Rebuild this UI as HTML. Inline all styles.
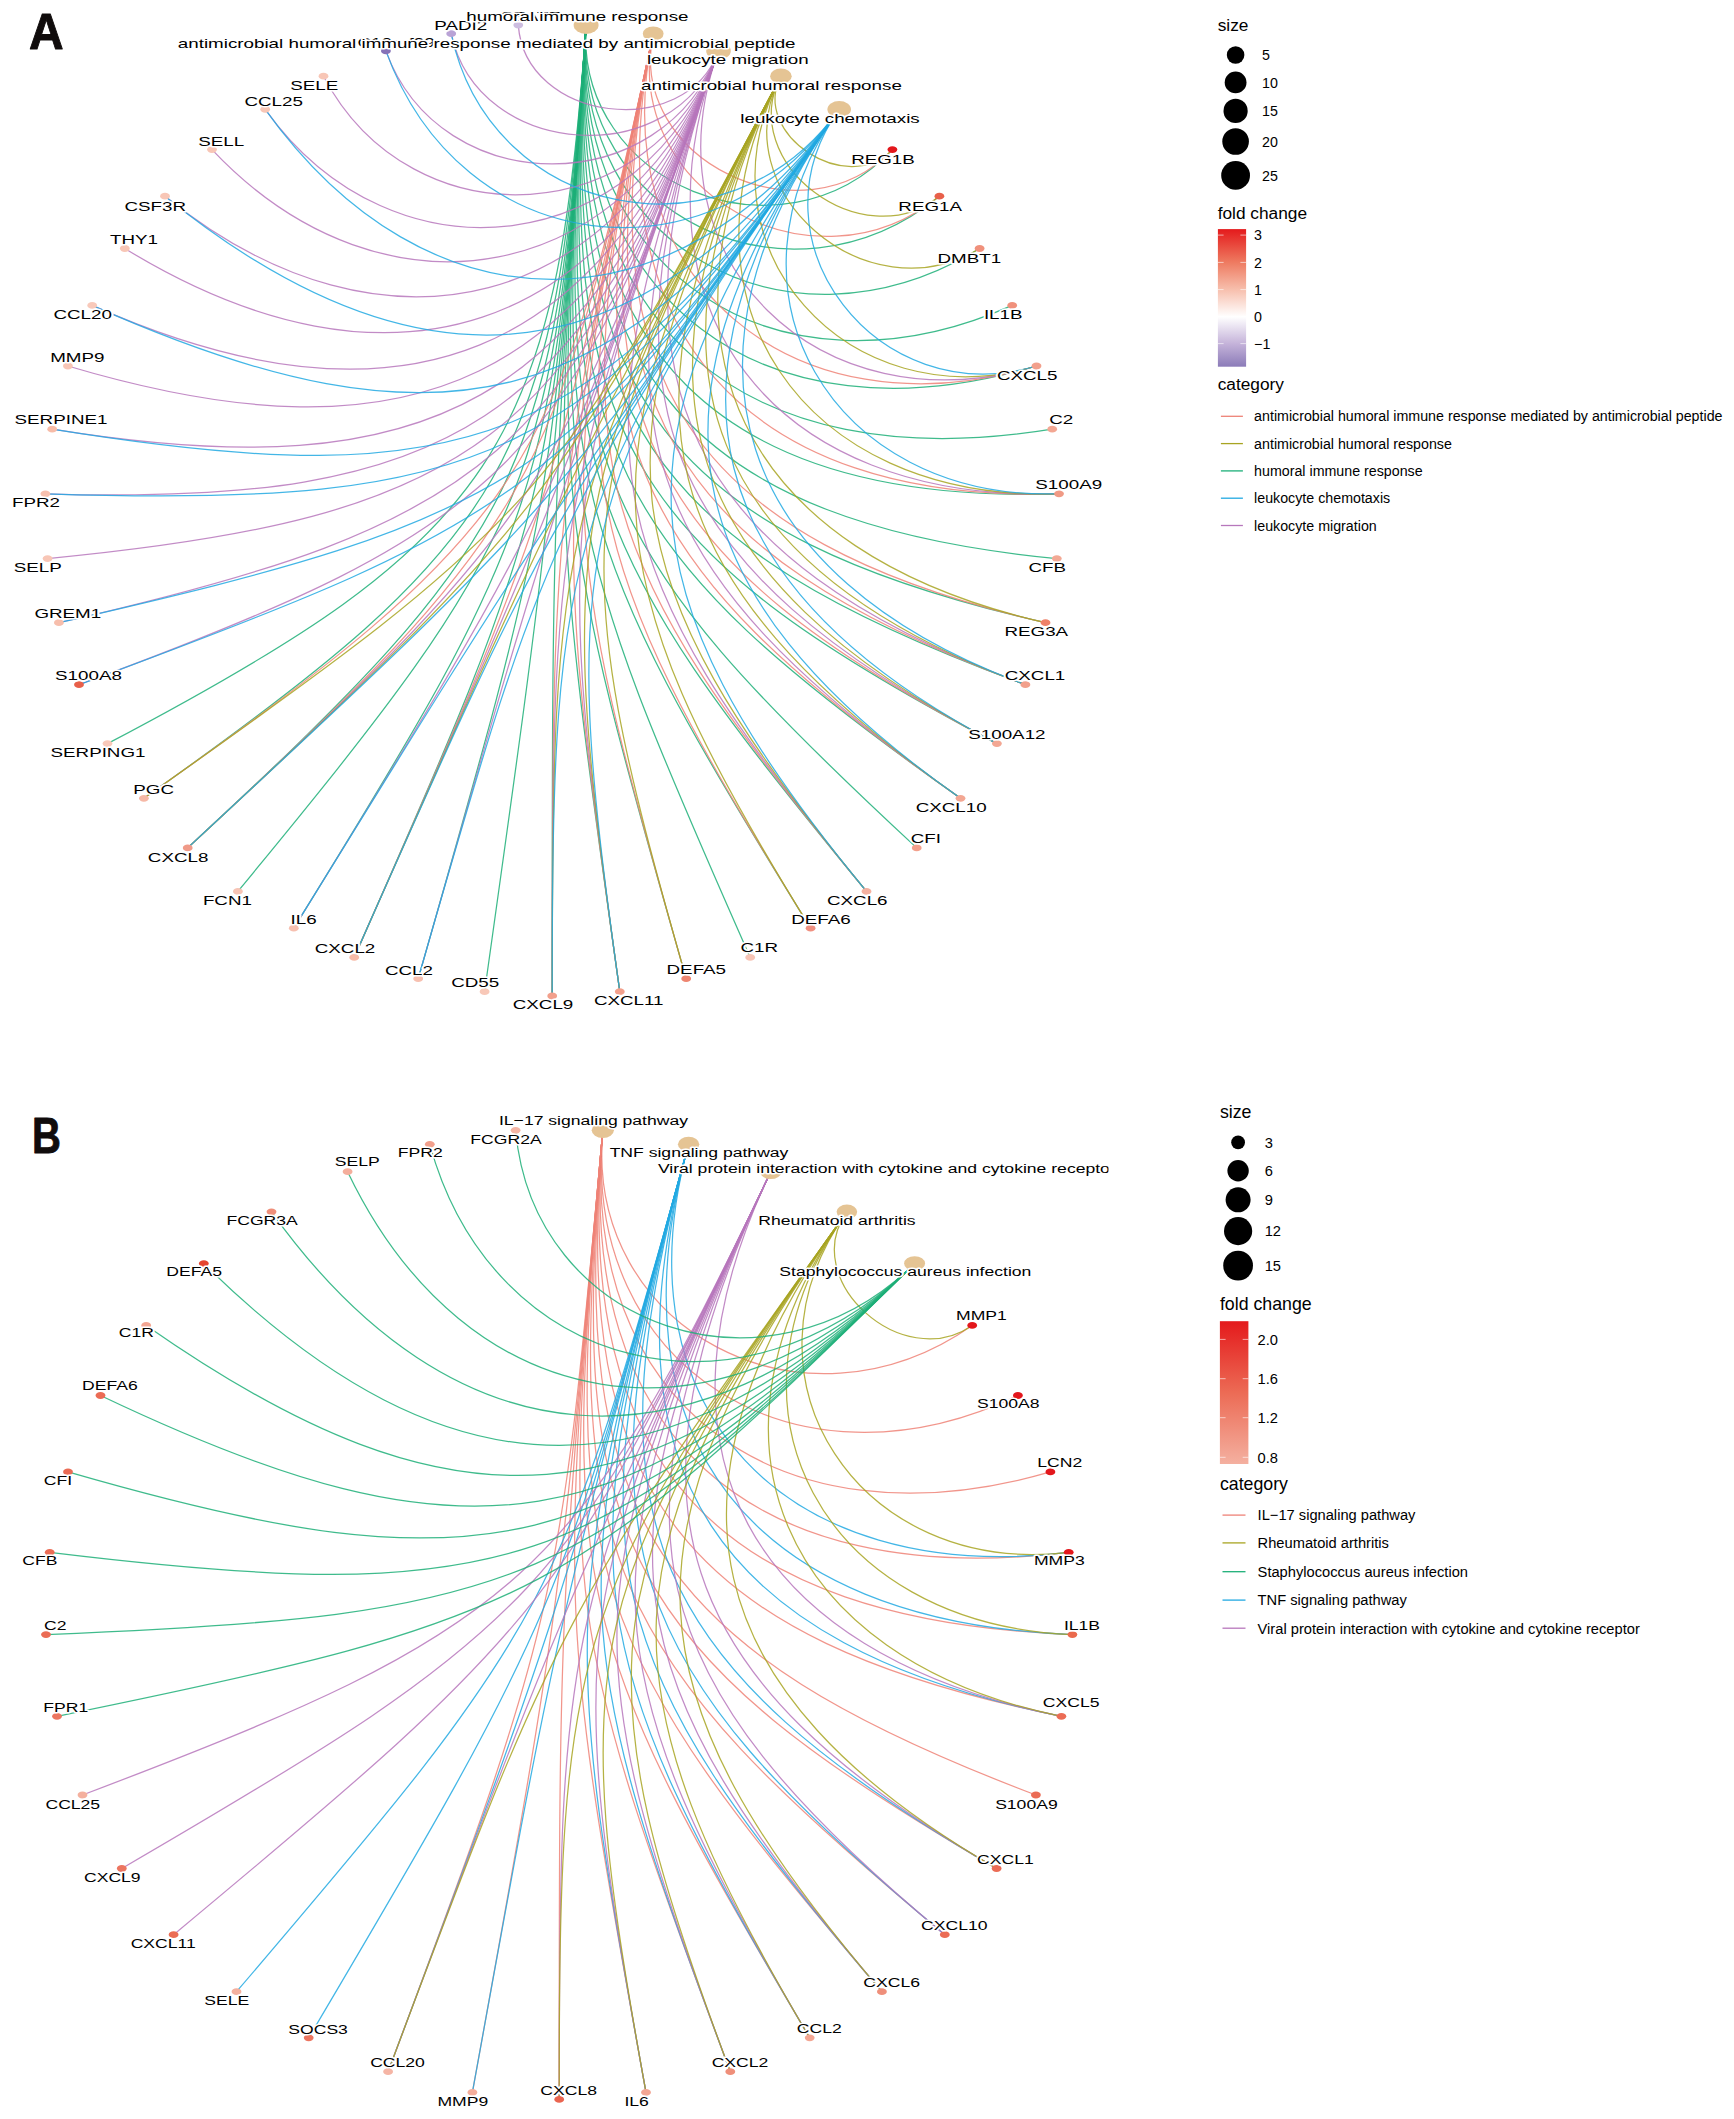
<!DOCTYPE html>
<html><head><meta charset="utf-8"><title>cnetplot</title>
<style>
html,body{margin:0;padding:0;background:#fff}
svg{display:block;font-family:"Liberation Sans",sans-serif}
.lab text{fill:#000;stroke:#fff;stroke-width:3px;stroke-linejoin:round;paint-order:stroke fill}
</style></head><body>
<svg width="1734" height="2119" viewBox="0 0 1734 2119">
<rect width="1734" height="2119" fill="#fff"/>
<defs><clipPath id="cpB"><rect x="0" y="1080" width="1108.5" height="1039"/></clipPath></defs>
<g id="panelA">
<g fill="none" stroke-width="1.25" stroke-opacity="0.85">
<g stroke="#1DAF78"><path d="M586.1 25.1C575.0 184.1 780.8 267.8 892.4 149.6"/><path d="M586.1 25.1C572.8 214.4 788.3 318.7 939.4 196.2"/><path d="M586.1 25.1C570.8 243.8 786.9 366.4 979.6 248.5"/><path d="M586.1 25.1C568.8 272.2 777.8 409.7 1012.2 305.4"/><path d="M586.1 25.1C566.9 299.5 762.4 447.5 1036.5 366.0"/><path d="M586.1 25.1C565.1 325.6 742.3 479.3 1052.2 429.2"/><path d="M586.1 25.1C563.4 350.4 719.1 504.7 1059.0 493.8"/><path d="M586.1 25.1C561.7 373.7 694.1 523.7 1056.8 558.6"/><path d="M586.1 25.1C560.2 395.4 668.8 536.6 1045.5 622.7"/><path d="M586.1 25.1C558.8 415.5 644.4 544.0 1025.4 684.7"/><path d="M586.1 25.1C557.5 433.8 622.1 546.7 996.9 743.6"/><path d="M586.1 25.1C556.4 450.3 602.4 545.5 960.5 798.3"/><path d="M586.1 25.1C555.3 464.9 586.1 541.4 916.7 847.9"/><path d="M586.1 25.1C554.5 477.6 573.2 535.5 866.5 891.4"/><path d="M586.1 25.1C553.7 488.2 563.8 528.8 810.6 928.2"/><path d="M586.1 25.1C553.1 496.8 557.6 522.2 750.2 957.4"/><path d="M586.1 25.1C552.7 503.2 554.1 516.5 686.2 978.7"/><path d="M586.1 25.1C552.4 507.6 552.5 512.4 619.8 991.7"/><path d="M586.1 25.1C552.2 509.7 552.2 510.3 552.2 996.0"/><path d="M586.1 25.1C552.2 509.7 552.2 510.3 484.6 991.7"/><path d="M586.1 25.1C552.4 507.6 551.5 512.4 418.2 978.7"/><path d="M586.1 25.1C552.7 503.2 549.4 516.2 354.2 957.4"/><path d="M586.1 25.1C553.1 496.8 545.2 521.4 293.8 928.2"/><path d="M586.1 25.1C553.7 488.2 538.1 527.1 237.9 891.4"/><path d="M586.1 25.1C554.5 477.6 527.8 532.6 187.7 847.9"/><path d="M586.1 25.1C555.3 464.9 514.3 536.8 143.9 798.3"/><path d="M586.1 25.1C556.4 450.3 497.5 538.7 107.5 743.6"/></g>
<g stroke="#EE8277"><path d="M653.2 33.7C626.5 159.6 802.5 244.8 892.4 149.6"/><path d="M653.2 33.7C620.1 190.0 812.4 299.2 939.4 196.2"/><path d="M653.2 33.7C601.7 276.4 789.7 439.4 1036.5 366.0"/><path d="M653.2 33.7C590.6 328.9 744.9 503.8 1059.0 493.8"/><path d="M653.2 33.7C580.6 376.1 690.9 541.7 1045.5 622.7"/><path d="M653.2 33.7C576.1 397.4 664.0 551.3 1025.4 684.7"/><path d="M653.2 33.7C571.9 417.2 638.9 555.5 996.9 743.6"/><path d="M653.2 33.7C568.1 435.2 616.3 555.3 960.5 798.3"/><path d="M653.2 33.7C561.6 465.8 581.4 545.4 866.5 891.4"/><path d="M653.2 33.7C558.9 478.2 569.5 537.9 810.6 928.2"/><path d="M653.2 33.7C555.0 497.0 555.8 522.8 686.2 978.7"/><path d="M653.2 33.7C553.6 503.4 553.1 516.7 619.8 991.7"/><path d="M653.2 33.7C552.7 507.6 552.2 512.4 552.2 996.0"/><path d="M653.2 33.7C552.7 507.6 551.2 512.2 354.2 957.4"/><path d="M653.2 33.7C556.7 488.6 535.8 525.2 187.7 847.9"/><path d="M653.2 33.7C558.9 478.2 524.9 529.3 143.9 798.3"/></g>
<g stroke="#B777BC"><path d="M718.5 50.9C643.5 258.0 818.1 431.0 1036.5 366.0"/><path d="M718.5 50.9C624.4 310.7 772.2 503.0 1059.0 493.8"/><path d="M718.5 50.9C599.0 380.9 685.3 559.1 1025.4 684.7"/><path d="M718.5 50.9C591.5 401.5 657.3 565.2 996.9 743.6"/><path d="M718.5 50.9C584.6 420.5 631.8 566.2 960.5 798.3"/><path d="M718.5 50.9C572.7 453.5 590.9 556.9 866.5 891.4"/><path d="M718.5 50.9C556.7 497.5 554.0 523.1 619.8 991.7"/><path d="M718.5 50.9C554.5 503.6 552.2 516.8 552.2 996.0"/><path d="M718.5 50.9C552.3 509.7 552.1 510.3 418.2 978.7"/><path d="M718.5 50.9C552.3 509.7 552.1 510.2 354.2 957.4"/><path d="M718.5 50.9C553.0 507.7 550.9 512.1 293.8 928.2"/><path d="M718.5 50.9C556.7 497.5 542.3 519.2 187.7 847.9"/><path d="M718.5 50.9C567.7 467.3 508.2 526.2 79.0 684.7"/><path d="M718.5 50.9C572.7 453.5 491.5 523.9 58.9 622.7"/><path d="M718.5 50.9C578.3 437.9 472.9 517.6 47.6 558.6"/><path d="M718.5 50.9C584.6 420.5 453.4 506.8 45.4 493.8"/><path d="M718.5 50.9C591.5 401.5 434.0 490.9 52.2 429.2"/><path d="M718.5 50.9C599.0 380.9 416.0 469.5 67.9 366.0"/><path d="M718.5 50.9C607.0 358.9 400.8 442.7 92.2 305.4"/><path d="M718.5 50.9C615.5 335.4 389.7 410.6 124.8 248.5"/><path d="M718.5 50.9C624.4 310.7 384.1 373.8 165.0 196.2"/><path d="M718.5 50.9C633.8 284.9 385.4 333.2 212.0 149.6"/><path d="M718.5 50.9C643.5 258.0 394.6 290.0 265.2 109.3"/><path d="M718.5 50.9C653.6 230.1 412.8 245.6 323.5 76.2"/><path d="M718.5 50.9C664.0 201.5 440.4 201.5 385.9 50.9"/><path d="M718.5 50.9C674.6 172.2 477.9 159.6 451.2 33.7"/><path d="M718.5 50.9C685.4 142.3 525.1 121.7 518.3 25.1"/></g>
<g stroke="#A8A422"><path d="M780.9 76.2C750.4 134.1 847.0 197.6 892.4 149.6"/><path d="M780.9 76.2C735.4 162.6 862.3 258.7 939.4 196.2"/><path d="M780.9 76.2C720.5 190.8 866.7 317.6 979.6 248.5"/><path d="M780.9 76.2C691.6 245.6 847.5 422.2 1036.5 366.0"/><path d="M780.9 76.2C664.4 297.3 800.7 502.0 1059.0 493.8"/><path d="M780.9 76.2C639.2 345.1 739.8 552.8 1045.5 622.7"/><path d="M780.9 76.2C627.5 367.2 708.0 567.5 1025.4 684.7"/><path d="M780.9 76.2C616.5 388.0 677.2 575.7 996.9 743.6"/><path d="M780.9 76.2C606.3 407.5 648.7 578.1 960.5 798.3"/><path d="M780.9 76.2C588.1 441.9 601.6 569.9 866.5 891.4"/><path d="M780.9 76.2C580.3 456.6 584.0 561.5 810.6 928.2"/><path d="M780.9 76.2C567.5 481.0 561.2 541.3 686.2 978.7"/><path d="M780.9 76.2C562.5 490.5 555.2 531.6 619.8 991.7"/><path d="M780.9 76.2C558.4 498.2 552.2 523.2 552.2 996.0"/><path d="M780.9 76.2C552.3 509.8 552.1 510.2 354.2 957.4"/><path d="M780.9 76.2C555.4 504.0 547.1 514.7 187.7 847.9"/><path d="M780.9 76.2C558.4 498.2 541.1 517.9 143.9 798.3"/></g>
<g stroke="#22A9E2"><path d="M839.2 109.3C745.1 240.8 877.7 413.2 1036.5 366.0"/><path d="M839.2 109.3C709.8 290.0 830.4 501.1 1059.0 493.8"/><path d="M839.2 109.3C661.3 357.6 732.1 576.4 1025.4 684.7"/><path d="M839.2 109.3C646.7 378.1 698.6 586.9 996.9 743.6"/><path d="M839.2 109.3C632.9 397.3 667.0 591.1 960.5 798.3"/><path d="M839.2 109.3C608.1 431.9 613.5 584.3 866.5 891.4"/><path d="M839.2 109.3C571.4 483.2 556.7 542.2 619.8 991.7"/><path d="M839.2 109.3C565.1 492.0 552.2 531.8 552.2 996.0"/><path d="M839.2 109.3C556.2 504.4 550.3 516.5 418.2 978.7"/><path d="M839.2 109.3C553.6 508.0 551.2 512.2 354.2 957.4"/><path d="M839.2 109.3C552.4 509.8 552.1 510.2 293.8 928.2"/><path d="M839.2 109.3C553.6 508.0 550.4 511.7 187.7 847.9"/><path d="M839.2 109.3C565.1 492.0 531.0 517.8 79.0 684.7"/><path d="M839.2 109.3C571.4 483.2 519.2 517.5 58.9 622.7"/><path d="M839.2 109.3C587.5 460.7 489.8 508.0 45.4 493.8"/><path d="M839.2 109.3C597.3 447.1 473.6 497.3 52.2 429.2"/><path d="M839.2 109.3C620.0 415.3 443.5 461.6 92.2 305.4"/><path d="M839.2 109.3C646.7 378.1 424.7 406.7 165.0 196.2"/><path d="M839.2 109.3C676.8 336.1 427.6 336.1 265.2 109.3"/><path d="M839.2 109.3C709.8 290.0 460.9 258.0 385.9 50.9"/><path d="M839.2 109.3C727.2 265.7 490.6 219.7 451.2 33.7"/></g>
</g>
<g>
<ellipse cx="586.1" cy="25.1" rx="12.5" ry="8.8" fill="#E5C494"/>
<ellipse cx="653.2" cy="33.7" rx="10.4" ry="7.3" fill="#E5C494"/>
<ellipse cx="718.5" cy="50.9" rx="12.3" ry="8.7" fill="#E5C494"/>
<ellipse cx="780.9" cy="76.2" rx="10.8" ry="7.6" fill="#E5C494"/>
<ellipse cx="839.2" cy="109.3" rx="11.8" ry="8.3" fill="#E5C494"/>
<ellipse cx="892.4" cy="149.6" rx="4.9" ry="3.4" fill="#E3171C"/>
<ellipse cx="939.4" cy="196.2" rx="4.9" ry="3.4" fill="#E8604A"/>
<ellipse cx="979.6" cy="248.5" rx="4.9" ry="3.4" fill="#F0917C"/>
<ellipse cx="1012.2" cy="305.4" rx="4.9" ry="3.4" fill="#F0917C"/>
<ellipse cx="1036.5" cy="366.0" rx="4.9" ry="3.4" fill="#F2A08C"/>
<ellipse cx="1052.2" cy="429.2" rx="4.9" ry="3.4" fill="#F3A793"/>
<ellipse cx="1059.0" cy="493.8" rx="4.9" ry="3.4" fill="#F09A85"/>
<ellipse cx="1056.8" cy="558.6" rx="4.9" ry="3.4" fill="#F3A995"/>
<ellipse cx="1045.5" cy="622.7" rx="4.9" ry="3.4" fill="#EE8068"/>
<ellipse cx="1025.4" cy="684.7" rx="4.9" ry="3.4" fill="#F2A08C"/>
<ellipse cx="996.9" cy="743.6" rx="4.9" ry="3.4" fill="#F3A793"/>
<ellipse cx="960.5" cy="798.3" rx="4.9" ry="3.4" fill="#F3A793"/>
<ellipse cx="916.7" cy="847.9" rx="4.9" ry="3.4" fill="#F3A08C"/>
<ellipse cx="866.5" cy="891.4" rx="4.9" ry="3.4" fill="#F4B0A0"/>
<ellipse cx="810.6" cy="928.2" rx="4.9" ry="3.4" fill="#F09080"/>
<ellipse cx="750.2" cy="957.4" rx="4.9" ry="3.4" fill="#F7C4B5"/>
<ellipse cx="686.2" cy="978.7" rx="4.9" ry="3.4" fill="#EE8570"/>
<ellipse cx="619.8" cy="991.7" rx="4.9" ry="3.4" fill="#F2A08C"/>
<ellipse cx="552.2" cy="996.0" rx="4.9" ry="3.4" fill="#F2A08C"/>
<ellipse cx="484.6" cy="991.7" rx="4.9" ry="3.4" fill="#F8C8B8"/>
<ellipse cx="418.2" cy="978.7" rx="4.9" ry="3.4" fill="#F7C0B0"/>
<ellipse cx="354.2" cy="957.4" rx="4.9" ry="3.4" fill="#F7BBA8"/>
<ellipse cx="293.8" cy="928.2" rx="4.9" ry="3.4" fill="#F7C0B0"/>
<ellipse cx="237.9" cy="891.4" rx="4.9" ry="3.4" fill="#F7C4B5"/>
<ellipse cx="187.7" cy="847.9" rx="4.9" ry="3.4" fill="#F09A88"/>
<ellipse cx="143.9" cy="798.3" rx="4.9" ry="3.4" fill="#F6B8A6"/>
<ellipse cx="107.5" cy="743.6" rx="4.9" ry="3.4" fill="#F8C9BA"/>
<ellipse cx="79.0" cy="684.7" rx="4.9" ry="3.4" fill="#E8604A"/>
<ellipse cx="58.9" cy="622.7" rx="4.9" ry="3.4" fill="#F7BEAC"/>
<ellipse cx="47.6" cy="558.6" rx="4.9" ry="3.4" fill="#F8C6B6"/>
<ellipse cx="45.4" cy="493.8" rx="4.9" ry="3.4" fill="#F7C0AE"/>
<ellipse cx="52.2" cy="429.2" rx="4.9" ry="3.4" fill="#F7BCA8"/>
<ellipse cx="67.9" cy="366.0" rx="4.9" ry="3.4" fill="#F8C6B6"/>
<ellipse cx="92.2" cy="305.4" rx="4.9" ry="3.4" fill="#F8C9BA"/>
<ellipse cx="124.8" cy="248.5" rx="4.9" ry="3.4" fill="#F8C6B6"/>
<ellipse cx="165.0" cy="196.2" rx="4.9" ry="3.4" fill="#F8C6B6"/>
<ellipse cx="212.0" cy="149.6" rx="4.9" ry="3.4" fill="#F8C6B6"/>
<ellipse cx="265.2" cy="109.3" rx="4.9" ry="3.4" fill="#F8C6B6"/>
<ellipse cx="323.5" cy="76.2" rx="4.9" ry="3.4" fill="#F8C6B6"/>
<ellipse cx="385.9" cy="50.9" rx="4.9" ry="3.4" fill="#8672B8"/>
<ellipse cx="451.2" cy="33.7" rx="4.9" ry="3.4" fill="#B9A3D6"/>
<ellipse cx="518.3" cy="25.1" rx="4.9" ry="3.4" fill="#CDBDE0"/>
</g>
<g class="lab" font-size="13.30" text-anchor="middle">
<text transform="translate(883.0 163.9) scale(1.412 1)">REG1B</text>
<text transform="translate(930.2 210.6) scale(1.412 1)">REG1A</text>
<text transform="translate(969.3 262.9) scale(1.412 1)">DMBT1</text>
<text transform="translate(1003.2 319.1) scale(1.412 1)">IL1B</text>
<text transform="translate(1027.2 379.8) scale(1.412 1)">CXCL5</text>
<text transform="translate(1061.3 423.8) scale(1.412 1)">C2</text>
<text transform="translate(1068.7 488.6) scale(1.412 1)">S100A9</text>
<text transform="translate(1047.2 571.7) scale(1.412 1)">CFB</text>
<text transform="translate(1036.3 636.1) scale(1.412 1)">REG3A</text>
<text transform="translate(1035.0 680.2) scale(1.412 1)">CXCL1</text>
<text transform="translate(1006.9 739.0) scale(1.412 1)">S100A12</text>
<text transform="translate(951.1 812.1) scale(1.412 1)">CXCL10</text>
<text transform="translate(925.8 843.4) scale(1.412 1)">CFI</text>
<text transform="translate(857.3 905.1) scale(1.412 1)">CXCL6</text>
<text transform="translate(820.9 923.8) scale(1.412 1)">DEFA6</text>
<text transform="translate(759.2 952.1) scale(1.412 1)">C1R</text>
<text transform="translate(696.3 973.9) scale(1.412 1)">DEFA5</text>
<text transform="translate(628.7 1005.2) scale(1.412 1)">CXCL11</text>
<text transform="translate(543.0 1009.4) scale(1.412 1)">CXCL9</text>
<text transform="translate(475.2 987.0) scale(1.412 1)">CD55</text>
<text transform="translate(408.9 974.5) scale(1.412 1)">CCL2</text>
<text transform="translate(345.0 952.7) scale(1.412 1)">CXCL2</text>
<text transform="translate(303.6 924.0) scale(1.412 1)">IL6</text>
<text transform="translate(227.4 905.2) scale(1.412 1)">FCN1</text>
<text transform="translate(178.1 861.9) scale(1.412 1)">CXCL8</text>
<text transform="translate(153.6 793.8) scale(1.412 1)">PGC</text>
<text transform="translate(98.0 757.1) scale(1.412 1)">SERPING1</text>
<text transform="translate(88.5 680.3) scale(1.412 1)">S100A8</text>
<text transform="translate(67.8 617.7) scale(1.412 1)">GREM1</text>
<text transform="translate(37.8 571.9) scale(1.412 1)">SELP</text>
<text transform="translate(35.9 507.1) scale(1.412 1)">FPR2</text>
<text transform="translate(61.0 424.1) scale(1.412 1)">SERPINE1</text>
<text transform="translate(77.3 361.6) scale(1.412 1)">MMP9</text>
<text transform="translate(82.6 319.0) scale(1.412 1)">CCL20</text>
<text transform="translate(133.9 244.4) scale(1.412 1)">THY1</text>
<text transform="translate(155.2 210.6) scale(1.412 1)">CSF3R</text>
<text transform="translate(221.2 145.5) scale(1.412 1)">SELL</text>
<text transform="translate(273.6 106.1) scale(1.412 1)">CCL25</text>
<text transform="translate(314.3 89.6) scale(1.412 1)">SELE</text>
<text transform="translate(396.0 46.5) scale(1.412 1)">C10orf99</text>
<text transform="translate(460.8 29.5) scale(1.412 1)">PADI2</text>
<text transform="translate(530.3 21.4) scale(1.412 1)">CEATE</text>
<text transform="translate(577.4 20.8) scale(1.412 1)">humoral immune response</text>
<text transform="translate(486.7 47.7) scale(1.412 1)">antimicrobial humoral immune response mediated by antimicrobial peptide</text>
<text transform="translate(727.8 64.1) scale(1.412 1)">leukocyte migration</text>
<text transform="translate(771.4 89.5) scale(1.412 1)">antimicrobial humoral response</text>
<text transform="translate(830.0 122.8) scale(1.412 1)">leukocyte chemotaxis</text>
</g>
</g>
<g id="panelB" clip-path="url(#cpB)">
<g fill="none" stroke-width="1.25" stroke-opacity="0.85">
<g stroke="#EE8277"><path d="M602.8 1130.3C584.8 1329.6 802.1 1444.3 972.2 1325.4"/><path d="M602.8 1130.3C581.5 1366.2 794.2 1502.0 1017.9 1395.5"/><path d="M602.8 1130.3C578.4 1401.2 775.3 1551.5 1050.4 1471.9"/><path d="M602.8 1130.3C575.4 1434.2 748.6 1591.1 1068.7 1552.3"/><path d="M602.8 1130.3C572.6 1465.0 717.3 1620.3 1072.4 1634.6"/><path d="M602.8 1130.3C570.1 1493.4 684.4 1639.5 1061.4 1716.3"/><path d="M602.8 1130.3C567.7 1519.2 652.6 1649.5 1035.9 1795.0"/><path d="M602.8 1130.3C565.7 1542.2 624.1 1651.8 996.6 1868.5"/><path d="M602.8 1130.3C563.9 1562.2 600.5 1648.3 944.8 1934.7"/><path d="M602.8 1130.3C562.3 1579.1 582.5 1641.2 881.9 1991.7"/><path d="M602.8 1130.3C561.1 1592.8 570.2 1632.6 809.7 2037.8"/><path d="M602.8 1130.3C560.2 1603.1 563.0 1624.3 730.3 2071.7"/><path d="M602.8 1130.3C559.6 1610.1 559.9 1617.9 646.0 2092.4"/><path d="M602.8 1130.3C559.2 1613.6 559.2 1614.4 559.2 2099.4"/><path d="M602.8 1130.3C559.2 1613.6 559.1 1614.4 472.4 2092.4"/><path d="M602.8 1130.3C559.6 1610.1 557.8 1617.7 388.1 2071.7"/></g>
<g stroke="#22A9E2"><path d="M688.6 1144.3C616.2 1407.3 783.4 1586.9 1068.7 1552.3"/><path d="M688.6 1144.3C607.3 1439.4 750.0 1621.7 1072.4 1634.6"/><path d="M688.6 1144.3C599.1 1469.3 713.9 1645.5 1061.4 1716.3"/><path d="M688.6 1144.3C584.6 1521.9 644.9 1663.9 996.6 1868.5"/><path d="M688.6 1144.3C578.4 1544.3 616.5 1661.6 944.8 1934.7"/><path d="M688.6 1144.3C573.1 1563.7 593.8 1654.4 881.9 1991.7"/><path d="M688.6 1144.3C568.5 1580.1 577.3 1644.6 809.7 2037.8"/><path d="M688.6 1144.3C564.9 1593.4 566.7 1634.1 730.3 2071.7"/><path d="M688.6 1144.3C562.1 1603.5 561.1 1624.7 646.0 2092.4"/><path d="M688.6 1144.3C559.3 1613.6 559.1 1614.4 472.4 2092.4"/><path d="M688.6 1144.3C559.3 1613.6 559.0 1614.4 388.1 2071.7"/><path d="M688.6 1144.3C560.2 1610.2 557.2 1617.4 308.7 2037.8"/><path d="M688.6 1144.3C562.1 1603.5 552.0 1622.5 236.5 1991.7"/></g>
<g stroke="#B777BC"><path d="M770.8 1171.7C637.9 1449.6 745.9 1652.0 1061.4 1716.3"/><path d="M770.8 1171.7C612.0 1503.7 668.3 1677.5 996.6 1868.5"/><path d="M770.8 1171.7C600.7 1527.3 634.8 1676.9 944.8 1934.7"/><path d="M770.8 1171.7C590.6 1548.3 607.1 1670.1 881.9 1991.7"/><path d="M770.8 1171.7C581.9 1566.6 586.0 1659.4 809.7 2037.8"/><path d="M770.8 1171.7C574.5 1582.1 571.5 1647.0 730.3 2071.7"/><path d="M770.8 1171.7C568.5 1594.6 563.0 1635.0 646.0 2092.4"/><path d="M770.8 1171.7C563.9 1604.1 559.2 1624.9 559.2 2099.4"/><path d="M770.8 1171.7C559.4 1613.6 559.0 1614.4 388.1 2071.7"/><path d="M770.8 1171.7C563.9 1604.1 550.5 1621.2 173.6 1934.7"/><path d="M770.8 1171.7C568.5 1594.6 540.0 1625.2 121.8 1868.5"/><path d="M770.8 1171.7C574.5 1582.1 524.8 1627.1 82.5 1795.0"/></g>
<g stroke="#A8A422"><path d="M846.9 1211.8C798.2 1279.8 902.4 1374.1 972.2 1325.4"/><path d="M846.9 1211.8C728.4 1377.5 858.9 1577.7 1068.7 1552.3"/><path d="M846.9 1211.8C706.6 1408.0 822.1 1624.6 1072.4 1634.6"/><path d="M846.9 1211.8C685.8 1437.0 780.2 1659.0 1061.4 1716.3"/><path d="M846.9 1211.8C647.8 1490.1 694.0 1692.4 996.6 1868.5"/><path d="M846.9 1211.8C615.6 1535.2 622.5 1688.0 881.9 1991.7"/><path d="M846.9 1211.8C601.9 1554.3 596.4 1676.9 809.7 2037.8"/><path d="M846.9 1211.8C590.0 1570.9 577.5 1663.0 730.3 2071.7"/><path d="M846.9 1211.8C579.9 1585.0 565.5 1648.5 646.0 2092.4"/><path d="M846.9 1211.8C571.8 1596.4 559.2 1635.3 559.2 2099.4"/><path d="M846.9 1211.8C561.5 1610.7 557.8 1617.7 388.1 2071.7"/></g>
<g stroke="#1DAF78"><path d="M914.6 1263.6C574.8 1598.6 537.2 1618.5 57.0 1716.3"/><path d="M914.6 1263.6C584.8 1588.7 522.2 1615.5 46.0 1634.6"/><path d="M914.6 1263.6C597.3 1576.5 504.6 1607.4 49.7 1552.3"/><path d="M914.6 1263.6C612.0 1562.0 486.3 1592.9 68.0 1471.9"/><path d="M914.6 1263.6C628.9 1545.3 469.3 1571.2 100.5 1395.5"/><path d="M914.6 1263.6C647.8 1526.6 456.2 1542.0 146.2 1325.4"/><path d="M914.6 1263.6C668.7 1506.0 449.7 1506.0 203.8 1263.6"/><path d="M914.6 1263.6C691.3 1483.7 452.3 1464.5 271.5 1211.8"/><path d="M914.6 1263.6C715.6 1459.8 466.1 1419.4 347.6 1171.7"/><path d="M914.6 1263.6C741.3 1434.5 492.9 1373.4 429.8 1144.3"/><path d="M914.6 1263.6C768.2 1407.9 533.6 1329.6 515.6 1130.3"/></g>
</g>
<g>
<ellipse cx="602.8" cy="1130.3" rx="11.1" ry="7.8" fill="#E5C494"/>
<ellipse cx="688.6" cy="1144.3" rx="10.7" ry="7.5" fill="#E5C494"/>
<ellipse cx="770.8" cy="1171.7" rx="10.5" ry="7.4" fill="#E5C494"/>
<ellipse cx="846.9" cy="1211.8" rx="10.3" ry="7.3" fill="#E5C494"/>
<ellipse cx="914.6" cy="1263.6" rx="10.5" ry="7.4" fill="#E5C494"/>
<ellipse cx="972.2" cy="1325.4" rx="4.9" ry="3.4" fill="#E3171C"/>
<ellipse cx="1017.9" cy="1395.5" rx="4.9" ry="3.4" fill="#E3171C"/>
<ellipse cx="1050.4" cy="1471.9" rx="4.9" ry="3.4" fill="#E3171C"/>
<ellipse cx="1068.7" cy="1552.3" rx="4.9" ry="3.4" fill="#E3171C"/>
<ellipse cx="1072.4" cy="1634.6" rx="4.9" ry="3.4" fill="#EA6A4D"/>
<ellipse cx="1061.4" cy="1716.3" rx="4.9" ry="3.4" fill="#EB6C55"/>
<ellipse cx="1035.9" cy="1795.0" rx="4.9" ry="3.4" fill="#EB6C55"/>
<ellipse cx="996.6" cy="1868.5" rx="4.9" ry="3.4" fill="#EB6C55"/>
<ellipse cx="944.8" cy="1934.7" rx="4.9" ry="3.4" fill="#EB6C55"/>
<ellipse cx="881.9" cy="1991.7" rx="4.9" ry="3.4" fill="#EF8F7A"/>
<ellipse cx="809.7" cy="2037.8" rx="4.9" ry="3.4" fill="#F3A693"/>
<ellipse cx="730.3" cy="2071.7" rx="4.9" ry="3.4" fill="#EF8F7A"/>
<ellipse cx="646.0" cy="2092.4" rx="4.9" ry="3.4" fill="#F3A693"/>
<ellipse cx="559.2" cy="2099.4" rx="4.9" ry="3.4" fill="#EA6550"/>
<ellipse cx="472.4" cy="2092.4" rx="4.9" ry="3.4" fill="#F4AE9C"/>
<ellipse cx="388.1" cy="2071.7" rx="4.9" ry="3.4" fill="#F5B5A5"/>
<ellipse cx="308.7" cy="2037.8" rx="4.9" ry="3.4" fill="#EC7560"/>
<ellipse cx="236.5" cy="1991.7" rx="4.9" ry="3.4" fill="#F4B09E"/>
<ellipse cx="173.6" cy="1934.7" rx="4.9" ry="3.4" fill="#EB6C55"/>
<ellipse cx="121.8" cy="1868.5" rx="4.9" ry="3.4" fill="#EC7560"/>
<ellipse cx="82.5" cy="1795.0" rx="4.9" ry="3.4" fill="#F4B09E"/>
<ellipse cx="57.0" cy="1716.3" rx="4.9" ry="3.4" fill="#EC7560"/>
<ellipse cx="46.0" cy="1634.6" rx="4.9" ry="3.4" fill="#EB6C55"/>
<ellipse cx="49.7" cy="1552.3" rx="4.9" ry="3.4" fill="#EB6C55"/>
<ellipse cx="68.0" cy="1471.9" rx="4.9" ry="3.4" fill="#EB6C55"/>
<ellipse cx="100.5" cy="1395.5" rx="4.9" ry="3.4" fill="#EB6C55"/>
<ellipse cx="146.2" cy="1325.4" rx="4.9" ry="3.4" fill="#F3A693"/>
<ellipse cx="203.8" cy="1263.6" rx="4.9" ry="3.4" fill="#E5452F"/>
<ellipse cx="271.5" cy="1211.8" rx="4.9" ry="3.4" fill="#EF8F7A"/>
<ellipse cx="347.6" cy="1171.7" rx="4.9" ry="3.4" fill="#F4AE9C"/>
<ellipse cx="429.8" cy="1144.3" rx="4.9" ry="3.4" fill="#F2A08C"/>
<ellipse cx="515.6" cy="1130.3" rx="4.9" ry="3.4" fill="#F5B5A5"/>
</g>
<g class="lab" font-size="13.30" text-anchor="middle">
<text transform="translate(981.4 1319.5) scale(1.323 1)">MMP1</text>
<text transform="translate(1008.3 1408.4) scale(1.323 1)">S100A8</text>
<text transform="translate(1059.8 1466.6) scale(1.323 1)">LCN2</text>
<text transform="translate(1059.3 1565.2) scale(1.323 1)">MMP3</text>
<text transform="translate(1082.0 1629.6) scale(1.323 1)">IL1B</text>
<text transform="translate(1071.2 1706.5) scale(1.323 1)">CXCL5</text>
<text transform="translate(1026.4 1808.8) scale(1.323 1)">S100A9</text>
<text transform="translate(1005.4 1864.4) scale(1.323 1)">CXCL1</text>
<text transform="translate(954.3 1930.2) scale(1.323 1)">CXCL10</text>
<text transform="translate(891.6 1987.0) scale(1.323 1)">CXCL6</text>
<text transform="translate(819.3 2033.3) scale(1.323 1)">CCL2</text>
<text transform="translate(740.0 2067.1) scale(1.323 1)">CXCL2</text>
<text transform="translate(636.6 2106.2) scale(1.323 1)">IL6</text>
<text transform="translate(568.6 2094.6) scale(1.323 1)">CXCL8</text>
<text transform="translate(462.8 2106.2) scale(1.323 1)">MMP9</text>
<text transform="translate(397.5 2067.2) scale(1.323 1)">CCL20</text>
<text transform="translate(318.1 2033.6) scale(1.323 1)">SOCS3</text>
<text transform="translate(226.8 2005.3) scale(1.323 1)">SELE</text>
<text transform="translate(163.2 1948.1) scale(1.323 1)">CXCL11</text>
<text transform="translate(112.3 1882.2) scale(1.323 1)">CXCL9</text>
<text transform="translate(72.8 1808.8) scale(1.323 1)">CCL25</text>
<text transform="translate(65.8 1711.5) scale(1.323 1)">FPR1</text>
<text transform="translate(55.3 1629.6) scale(1.323 1)">C2</text>
<text transform="translate(39.9 1565.2) scale(1.323 1)">CFB</text>
<text transform="translate(58.0 1484.8) scale(1.323 1)">CFI</text>
<text transform="translate(109.9 1389.8) scale(1.323 1)">DEFA6</text>
<text transform="translate(136.4 1337.3) scale(1.323 1)">C1R</text>
<text transform="translate(194.1 1275.9) scale(1.323 1)">DEFA5</text>
<text transform="translate(262.1 1224.6) scale(1.323 1)">FCGR3A</text>
<text transform="translate(357.3 1166.3) scale(1.323 1)">SELP</text>
<text transform="translate(420.2 1157.0) scale(1.323 1)">FPR2</text>
<text transform="translate(506.0 1143.5) scale(1.323 1)">FCGR2A</text>
<text transform="translate(593.5 1125.0) scale(1.323 1)">IL−17 signaling pathway</text>
<text transform="translate(699.0 1157.3) scale(1.323 1)">TNF signaling pathway</text>
<text transform="translate(886.8 1173.2) scale(1.323 1)">Viral protein interaction with cytokine and cytokine receptor</text>
<text transform="translate(837.0 1224.6) scale(1.323 1)">Rheumatoid arthritis</text>
<text transform="translate(905.3 1275.9) scale(1.323 1)">Staphylococcus aureus infection</text>
</g>
</g>
<g font-weight="bold" font-size="50.8" fill="#100c0c" stroke="#100c0c" stroke-width="0.9" stroke-linejoin="round">
<text transform="translate(29.1 48.7) scale(0.943 1)">A</text>
<text transform="translate(31.9 1152.7) scale(0.789 1)">B</text>
</g>
<g fill="#000">
<g font-size="17.3">
<text x="1217.7" y="31">size</text>
<text x="1217.7" y="218.6">fold change</text>
<text x="1217.7" y="390">category</text>
</g>
<circle cx="1235.6" cy="55.0" r="8.8"/>
<text x="1262.1" y="60.1" font-size="14.24">5</text>
<circle cx="1235.6" cy="82.4" r="10.9"/>
<text x="1262.1" y="87.5" font-size="14.24">10</text>
<circle cx="1235.6" cy="110.9" r="12.1"/>
<text x="1262.1" y="116.0" font-size="14.24">15</text>
<circle cx="1235.6" cy="141.5" r="13.3"/>
<text x="1262.1" y="146.6" font-size="14.24">20</text>
<circle cx="1235.6" cy="175.4" r="14.4"/>
<text x="1262.1" y="180.5" font-size="14.24">25</text>
<defs><linearGradient id="gA" x1="0" y1="0" x2="0" y2="1">
<stop offset="0.000" stop-color="#E41A1C"/>
<stop offset="0.240" stop-color="#EE7A60"/>
<stop offset="0.440" stop-color="#F7BFAD"/>
<stop offset="0.637" stop-color="#FFFFFF"/>
<stop offset="0.835" stop-color="#C4B2D9"/>
<stop offset="1.000" stop-color="#8B7BB8"/>
</linearGradient></defs>
<rect x="1217.9" y="229.1" width="28.2" height="137.6" fill="url(#gA)"/>
<path d="M1217.9 235.1h5.7M1246.1 235.1h-5.7" stroke="#fff" stroke-opacity="0.6" stroke-width="1" fill="none"/>
<text x="1254.1" y="240.2" font-size="14.24">3</text>
<path d="M1217.9 262.4h5.7M1246.1 262.4h-5.7" stroke="#fff" stroke-opacity="0.6" stroke-width="1" fill="none"/>
<text x="1254.1" y="267.5" font-size="14.24">2</text>
<path d="M1217.9 289.6h5.7M1246.1 289.6h-5.7" stroke="#fff" stroke-opacity="0.6" stroke-width="1" fill="none"/>
<text x="1254.1" y="294.7" font-size="14.24">1</text>
<path d="M1217.9 316.6h5.7M1246.1 316.6h-5.7" stroke="#fff" stroke-opacity="0.6" stroke-width="1" fill="none"/>
<text x="1254.1" y="321.7" font-size="14.24">0</text>
<path d="M1217.9 343.6h5.7M1246.1 343.6h-5.7" stroke="#fff" stroke-opacity="0.6" stroke-width="1" fill="none"/>
<text x="1254.1" y="348.7" font-size="14.24">−1</text>
<path d="M1220.9 416.3H1242.9" stroke="#EE8277" stroke-width="1.3" fill="none"/>
<text x="1254.1" y="421.4" font-size="14.24">antimicrobial humoral immune response mediated by antimicrobial peptide</text>
<path d="M1220.9 443.6H1242.9" stroke="#A8A422" stroke-width="1.3" fill="none"/>
<text x="1254.1" y="448.7" font-size="14.24">antimicrobial humoral response</text>
<path d="M1220.9 470.9H1242.9" stroke="#1DAF78" stroke-width="1.3" fill="none"/>
<text x="1254.1" y="476.0" font-size="14.24">humoral immune response</text>
<path d="M1220.9 498.2H1242.9" stroke="#22A9E2" stroke-width="1.3" fill="none"/>
<text x="1254.1" y="503.3" font-size="14.24">leukocyte chemotaxis</text>
<path d="M1220.9 525.5H1242.9" stroke="#B777BC" stroke-width="1.3" fill="none"/>
<text x="1254.1" y="530.6" font-size="14.24">leukocyte migration</text>
<g font-size="17.75">
<text x="1219.9" y="1117.7">size</text>
<text x="1219.9" y="1310">fold change</text>
<text x="1219.9" y="1489.9">category</text>
</g>
<circle cx="1238.1" cy="1142.3" r="6.9"/>
<text x="1264.7" y="1147.6" font-size="14.68">3</text>
<circle cx="1238.1" cy="1170.7" r="10.7"/>
<text x="1264.7" y="1176.0" font-size="14.68">6</text>
<circle cx="1238.1" cy="1199.8" r="12.5"/>
<text x="1264.7" y="1205.1" font-size="14.68">9</text>
<circle cx="1238.1" cy="1231.1" r="14.1"/>
<text x="1264.7" y="1236.4" font-size="14.68">12</text>
<circle cx="1238.1" cy="1265.6" r="14.9"/>
<text x="1264.7" y="1270.9" font-size="14.68">15</text>
<defs><linearGradient id="gB" x1="0" y1="0" x2="0" y2="1">
<stop offset="0.000" stop-color="#E41A1C"/>
<stop offset="0.500" stop-color="#EC6B55"/>
<stop offset="1.000" stop-color="#F4B0A0"/>
</linearGradient></defs>
<rect x="1219.9" y="1321.2" width="28.5" height="142.8" fill="url(#gB)"/>
<path d="M1219.9 1339.4h5.7M1248.4 1339.4h-5.7" stroke="#fff" stroke-opacity="0.6" stroke-width="1" fill="none"/>
<text x="1257.6" y="1344.7" font-size="14.68">2.0</text>
<path d="M1219.9 1378.7h5.7M1248.4 1378.7h-5.7" stroke="#fff" stroke-opacity="0.6" stroke-width="1" fill="none"/>
<text x="1257.6" y="1384.0" font-size="14.68">1.6</text>
<path d="M1219.9 1417.7h5.7M1248.4 1417.7h-5.7" stroke="#fff" stroke-opacity="0.6" stroke-width="1" fill="none"/>
<text x="1257.6" y="1423.0" font-size="14.68">1.2</text>
<path d="M1219.9 1457.3h5.7M1248.4 1457.3h-5.7" stroke="#fff" stroke-opacity="0.6" stroke-width="1" fill="none"/>
<text x="1257.6" y="1462.6" font-size="14.68">0.8</text>
<path d="M1222.5 1515.1H1245.5" stroke="#EE8277" stroke-width="1.3" fill="none"/>
<text x="1257.6" y="1520.4" font-size="14.68">IL−17 signaling pathway</text>
<path d="M1222.5 1542.9H1245.5" stroke="#A8A422" stroke-width="1.3" fill="none"/>
<text x="1257.6" y="1548.2" font-size="14.68">Rheumatoid arthritis</text>
<path d="M1222.5 1571.7H1245.5" stroke="#1DAF78" stroke-width="1.3" fill="none"/>
<text x="1257.6" y="1577.0" font-size="14.68">Staphylococcus aureus infection</text>
<path d="M1222.5 1600.1H1245.5" stroke="#22A9E2" stroke-width="1.3" fill="none"/>
<text x="1257.6" y="1605.4" font-size="14.68">TNF signaling pathway</text>
<path d="M1222.5 1628.2H1245.5" stroke="#B777BC" stroke-width="1.3" fill="none"/>
<text x="1257.6" y="1633.5" font-size="14.68">Viral protein interaction with cytokine and cytokine receptor</text>
</g>
</svg>
</body></html>
